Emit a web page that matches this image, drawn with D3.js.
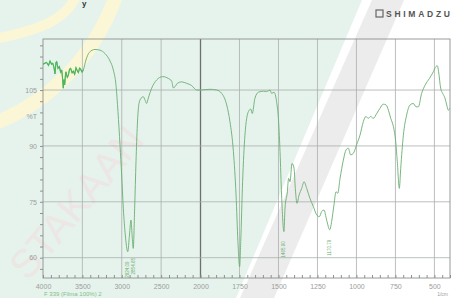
<!DOCTYPE html>
<html>
<head>
<meta charset="utf-8">
<script src="https://cdn.jsdelivr.net/npm/d3@7/dist/d3.min.js"></script>
<style>
body { margin: 0; background: #fff; }
svg { display: block; font-family: "Liberation Sans", Arial, sans-serif; }
</style>
</head>
<body>
<div id="chart"></div>
<script>
// FTIR spectrum
var wavenumbers = [4000, 3954, 3930, 3911, 3890, 3877, 3860, 3848, 3835, 3826, 3810, 3793, 3775, 3763, 3752, 3742, 3733, 3725, 3715,
    3708, 3692, 3678, 3662, 3649, 3630, 3615, 3598, 3581, 3565, 3551, 3535, 3522, 3505, 3488,
    3454, 3412, 3340, 3276, 3213, 3149, 3107, 3073, 3048, 3022, 3001, 2980, 2955, 2924, 2902, 2883, 2866, 2854,
    2836, 2819, 2802, 2781, 2755, 2726, 2700, 2684, 2662, 2620, 2557, 2480, 2408, 2366, 2345, 2324, 2294, 2239,
    2176, 2112, 2049, 2003, 1939, 1896, 1864, 1832, 1811, 1789, 1772, 1760, 1749, 1742, 1730, 1715, 1693, 1678,
    1668, 1651, 1629, 1597, 1576, 1554, 1544, 1529, 1512, 1499, 1490, 1480, 1465, 1458, 1443, 1435, 1426, 1413,
    1400, 1392, 1381, 1368, 1351, 1336, 1319, 1298, 1276, 1255, 1238, 1223, 1208, 1191, 1171, 1159, 1144, 1131,
    1120, 1105, 1084, 1067, 1052, 1037, 1020, 999, 977, 956, 939, 924, 909, 892, 870, 849, 828, 810, 795, 780,
    763, 748, 738, 725, 716, 699, 678, 656, 635, 618, 603, 582, 560, 532, 507, 490, 481, 473, 460, 447, 432,
    421, 411, 400];
var transmittance = [111.9, 112.4, 111.6, 112.8, 111.9, 112.2, 111.0, 109.3, 112.4, 112.6, 110.8, 111.3, 109.8, 110.4, 108.2, 105.5, 107.8, 106.4, 109.0,
    109.9, 108.4, 109.0, 110.6, 110.8, 109.6, 110.1, 109.2, 111.0, 110.2, 109.7, 110.9, 110.6, 109.8, 110.4,
    113.1, 115.1, 115.9, 115.7, 114.8, 112.8, 110.4, 106.3, 99.2, 90.2, 82.2, 73.3, 66.1, 61.6, 66.1, 70.1, 65.2, 62.5,
    73.3, 85.8, 95.6, 101.4, 102.8, 103.2, 102.1, 101.4, 102.9, 105.5, 107.7, 108.6, 108.1, 107.4, 105.6, 105.9, 106.8, 107.2,
    106.8, 106.2, 105.0, 105.0, 105.2, 105.0, 104.1, 101.0, 96.5, 88.5, 76.8, 64.3, 57.6, 64.3, 80.4, 92.9, 99.2, 99.9,
    98.7, 102.8, 104.4, 104.7, 104.6, 105.0, 104.1, 104.4, 101.9, 96.5, 88.5, 76.8, 67.0, 73.3, 77.7, 81.3, 80.4, 85.3,
    84.0, 78.6, 74.6, 76.8, 78.6, 80.4, 78.6, 75.9, 73.7, 71.5, 71.0, 72.4, 72.8, 70.1, 67.5, 69.7, 74.2, 77.7,
    77.3, 81.3, 86.2, 88.9, 89.4, 87.6, 88.0, 90.3, 92.9, 96.5, 97.9, 97.4, 97.9, 97.4, 98.7, 100.1, 101.2, 101.0, 99.6, 97.4,
    95.2, 91.1, 85.8, 78.6, 84.0, 92.9, 98.3, 101.0, 101.4, 100.5, 100.5, 104.1, 106.3, 108.1, 109.9, 111.3, 111.5, 109.9, 105.5, 104.1, 102.8,
    101.0, 99.6, 100.1];

var xLabelTicks = [4000, 3500, 3000, 2500, 2000, 1750, 1500, 1250, 1000, 750, 500];
var yLabelTicks = [105, 90, 75, 60];
var peakWavenumbers = [2924, 2854, 1465, 1171];
var peakLabels = ["2924.09", "2854.65", "1465.90", "1170.79"];

var width = 452, height = 298;

var svg = d3.select("#chart").append("svg").attr("width", width).attr("height", height);

// piecewise x axis, scale changes at 2000 1/cm like the instrument does
var x = d3.scaleLinear().domain([4000, 2000, 400]).range([43, 200.5, 450]);
var y = d3.scaleLinear().domain([54.55, 118.7]).range([278, 39]);

// watermark-ish background
svg.append("rect").attr("width", width).attr("height", height).attr("fill", "#ffffff");
svg.append("path").attr("d", "M0,0 L362,0 L236,298 L0,298 Z").attr("fill", "#e6f3ec");
svg.append("path").attr("d", "M372,0 L404,0 L274,298 L240,298 Z").attr("fill", "#ececec");
svg.append("path")
    .attr("d", "M118,-10 C95,60 45,105 -10,125")
    .attr("fill", "none").attr("stroke", "#fbf7d6").attr("stroke-width", 14);
svg.append("path")
    .attr("d", "M78,-10 C70,20 40,30 -10,40")
    .attr("fill", "none").attr("stroke", "#fbf7d6").attr("stroke-width", 10);
svg.append("text")
    .attr("transform", "translate(28,282) rotate(-50)")
    .attr("font-size", 40).attr("fill", "#f2dadd").attr("opacity", 0.5)
    .text("STAKAAN");

// gridlines
svg.append("g").selectAll("line.vg")
    .data(xLabelTicks.filter(d => d != 4000))
    .enter().append("line")
    .attr("class", "vg")
    .attr("x1", d => x(d)).attr("x2", d => x(d))
    .attr("y1", y.range()[1]).attr("y2", y.range()[0])
    .attr("stroke", d => d == 2000 ? "#6f6f6f" : "#a9b0ad")
    .attr("stroke-width", d => d == 2000 ? 1.3 : 0.8);

svg.append("g").selectAll("line.hg")
    .data(yLabelTicks)
    .enter().append("line")
    .attr("class", "hg")
    .attr("x1", x.range()[0]).attr("x2", x.range()[2])
    .attr("y1", d => y(d)).attr("y2", d => y(d))
    .attr("stroke", "#a9b0ad").attr("stroke-width", 0.8);

// frame
svg.append("rect")
    .attr("x", x.range()[0]).attr("y", y.range()[1])
    .attr("width", x.range()[2] - x.range()[0]).attr("height", y.range()[0] - y.range()[1])
    .attr("fill", "none").attr("stroke", "#8c918f").attr("stroke-width", 0.9);

// minor ticks on the bottom: every 100 on the left part, every 50 on the right part
var minorX = d3.range(4000, 2000, -100).concat(d3.range(2000, 399, -50));
svg.append("g")
    .attr("transform", "translate(0," + y.range()[0] + ")")
    .call(d3.axisTop(x).tickValues(minorX).tickSize(3).tickFormat(""))
    .call(g => g.select(".domain").remove())
    .call(g => g.selectAll("text").remove())
    .call(g => g.selectAll("line").attr("stroke", "#8c918f"));

svg.append("g")
    .attr("transform", "translate(0," + (y.range()[0] + 4) + ")")
    .call(d3.axisBottom(x).tickValues(xLabelTicks).tickSize(0).tickPadding(2).tickFormat(d3.format("d")))
    .call(g => g.select(".domain").remove())
    .call(g => g.selectAll("text").attr("fill", "#9a9d9c").attr("font-size", 7));

var minorY = d3.range(117, 55, -3);
svg.append("g")
    .attr("transform", "translate(" + x.range()[0] + ",0)")
    .call(d3.axisLeft(y).tickValues(minorY).tickSize(3).tickFormat(""))
    .call(g => g.select(".domain").remove())
    .call(g => g.selectAll("text").remove())
    .call(g => g.selectAll("line").attr("stroke", "#8c918f"));

svg.append("g")
    .attr("transform", "translate(" + (x.range()[0] - 4) + ",0)")
    .call(d3.axisLeft(y).tickValues(yLabelTicks).tickSize(0).tickPadding(2))
    .call(g => g.select(".domain").remove())
    .call(g => g.selectAll("text").attr("fill", "#9a9d9c").attr("font-size", 7));

svg.append("text").attr("x", 37).attr("y", 119).attr("text-anchor", "end")
    .attr("font-size", 7).attr("fill", "#9a9d9c").text("%T");
svg.append("text").attr("x", 448).attr("y", 296).attr("text-anchor", "end")
    .attr("font-size", 5).attr("fill", "#9a9d9c").text("1/cm");
svg.append("text").attr("x", 44).attr("y", 296)
    .attr("font-size", 6).attr("fill", "#7fbf8a").text("F 339 (Filma 100%) 2");

// spectrum
svg.append("clipPath").attr("id", "plotclip").append("rect")
    .attr("x", x.range()[0]).attr("y", y.range()[1])
    .attr("width", x.range()[2] - x.range()[0]).attr("height", y.range()[0] - y.range()[1]);

var line = d3.line()
    .x((d, i) => x(wavenumbers[i]))
    .y(d => y(d))
    .curve(d3.curveMonotoneX);

svg.append("path")
    .datum(transmittance)
    .attr("clip-path", "url(#plotclip)")
    .attr("fill", "none")
    .attr("stroke", "#6aae70")
    .attr("stroke-width", 0.9)
    .attr("d", line);

// the noisy O-H region shows up brighter on the printout
var noisy = wavenumbers.map((w, i) => [w, transmittance[i]]).filter(p => p[0] >= 3488);
svg.append("path")
    .datum(noisy)
    .attr("fill", "none")
    .attr("stroke", "#4db65a")
    .attr("stroke-width", 1.1)
    .attr("d", d3.line().x(p => x(p[0])).y(p => y(p[1])));

// peak labels, vertical under the minima
svg.append("g").selectAll("text.peak")
    .data(peakWavenumbers)
    .enter().append("text")
    .attr("class", "peak")
    .attr("transform", function(d, i) {
        var t = transmittance[wavenumbers.indexOf(d)];
        return "translate(" + (x(d) + 1.5) + "," + (y(t) + 26) + ") rotate(-90)";
    })
    .attr("font-size", 4.5)
    .attr("fill", "#6aae70")
    .text((d, i) => peakLabels[i]);

// header bits
svg.append("text").attr("x", 82).attr("y", 6).attr("font-size", 8).attr("font-weight", "bold")
    .attr("fill", "#333").text("y");
svg.append("rect").attr("x", 376).attr("y", 10).attr("width", 7).attr("height", 7)
    .attr("fill", "none").attr("stroke", "#666").attr("stroke-width", 1.2);
svg.append("text").attr("x", 386).attr("y", 17).attr("font-size", 8.5).attr("font-weight", "bold")
    .attr("fill", "#555").attr("textLength", 64).attr("lengthAdjust", "spacing").text("SHIMADZU");
</script>
</body>
</html>
